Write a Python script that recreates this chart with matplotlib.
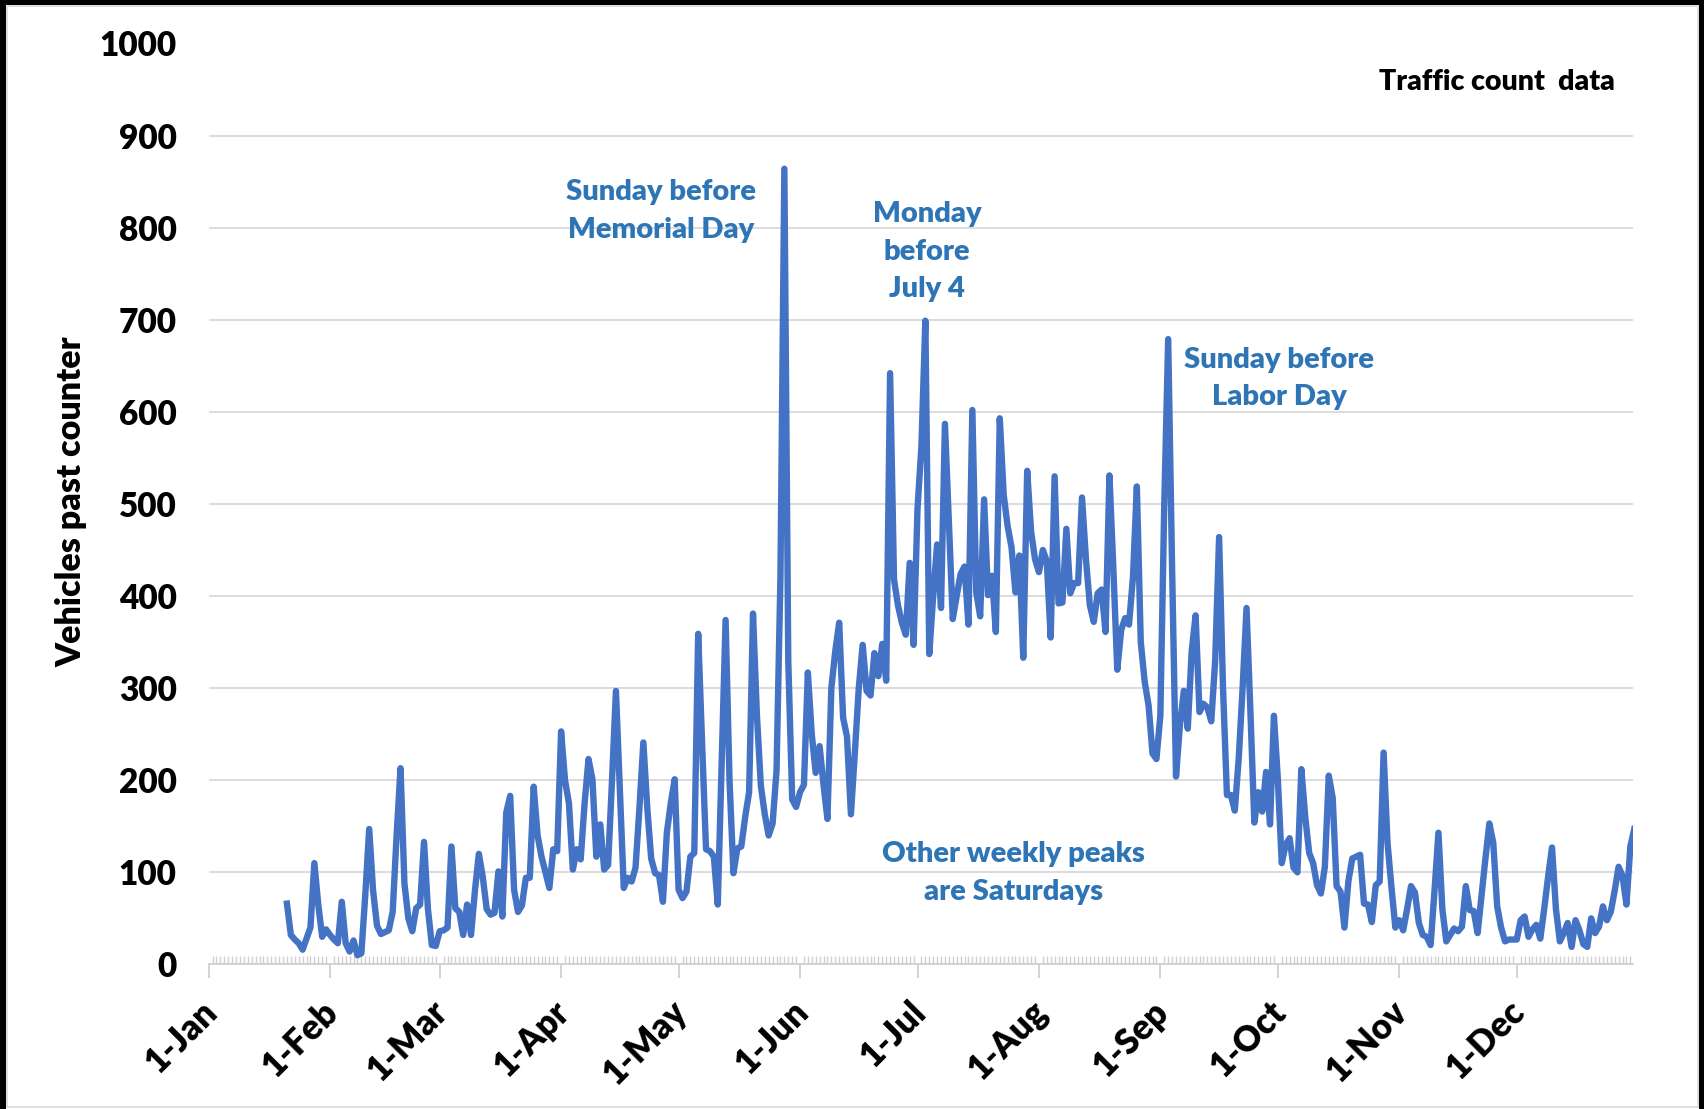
import datetime as dt
import numpy as np
import matplotlib
matplotlib.use("Agg")
import matplotlib.pyplot as plt
import matplotlib.dates as mdates
from matplotlib.transforms import ScaledTranslation
from matplotlib.patches import Rectangle

# ---------------- data ----------------
first_date = dt.date(2017, 1, 21)
vehicles = [
    66, 32, 27, 23, 16, 28, 40, 110, 65, 30, 38, 32, 27, 23, 68, 23, 14, 26, 10, 12,
    75, 147, 80, 42, 33, 35, 37, 57, 140, 213, 88, 50, 36, 61, 65, 133, 60, 21, 20, 36,
    37, 40, 128, 61, 57, 32, 65, 32, 80, 120, 95, 60, 54, 56, 101, 52, 165, 183, 81, 57,
    64, 94, 94, 193, 140, 117, 100, 83, 125, 123, 253, 200, 175, 103, 125, 114, 175, 223, 201, 117,
    152, 103, 108, 200, 297, 190, 83, 94, 90, 105, 170, 241, 170, 115, 99, 97, 68, 143, 175, 201,
    81, 72, 79, 117, 121, 359, 240, 125, 123, 117, 65, 220, 374, 200, 99, 126, 128, 160, 187, 381,
    270, 194, 163, 140, 153, 210, 420, 864, 330, 179, 171, 187, 195, 317, 250, 208, 237, 195, 158, 300,
    340, 371, 268, 247, 163, 230, 300, 347, 297, 292, 338, 313, 348, 308, 642, 418, 390, 371, 358, 436,
    347, 495, 563, 699, 337, 400, 456, 387, 587, 480, 375, 400, 424, 432, 369, 602, 404, 378, 505, 401,
    422, 361, 593, 510, 476, 453, 404, 444, 333, 536, 470, 440, 426, 450, 438, 355, 530, 392, 393, 473,
    403, 414, 414, 507, 440, 390, 372, 403, 407, 361, 531, 430, 320, 363, 376, 369, 420, 519, 350, 307,
    281, 229, 223, 270, 500, 679, 430, 204, 260, 297, 256, 340, 379, 274, 283, 279, 264, 330, 464, 300,
    184, 184, 167, 223, 300, 387, 274, 154, 187, 166, 209, 152, 270, 201, 110, 130, 137, 105, 100, 212,
    160, 121, 110, 86, 77, 106, 205, 181, 85, 79, 40, 90, 115, 117, 119, 66, 65, 46, 86, 90,
    230, 132, 84, 40, 48, 37, 60, 85, 78, 45, 32, 30, 21, 80, 143, 60, 25, 32, 39, 36,
    41, 85, 59, 58, 34, 75, 115, 153, 132, 63, 40, 25, 27, 27, 27, 48, 52, 30, 38, 43,
    28, 60, 95, 127, 60, 25, 34, 45, 19, 48, 37, 22, 19, 50, 34, 41, 63, 48, 57, 80,
    106, 96, 65, 128, 147,
]
dates = [first_date + dt.timedelta(days=i) for i in range(len(vehicles))]

y_ticks = list(range(0, 1001, 100))
title_text = "Traffic count  data"
y_label = "Vehicles past counter"
notes = [
    ("Sunday before\nMemorial Day", 115.6, 818),
    ("Monday\nbefore\nJuly 4", 183.4, 774),
    ("Sunday before\nLabor Day", 273.3, 636),
    ("Other weekly peaks\nare Saturdays", 205.6, 99),
]

# ---------------- style ----------------
plt.rcParams["font.family"] = ["Lato", "DejaVu Sans"]
WEIGHT = "heavy"

W, H = 1704, 1109
fig = plt.figure(figsize=(W / 100, H / 100), dpi=100)
fig.patch.set_facecolor("white")

left, right = 208.6 / W, 1632.7 / W
bottom, top = 1 - 964.4 / H, 1 - 43.5 / H
ax = fig.add_axes([left, bottom, right - left, top - bottom])

ax.plot(dates, vehicles, color="#4472C4", lw=4.6, solid_joinstyle="round", zorder=3)

x0 = mdates.date2num(dt.date(2017, 1, 1))
ax.set_xlim(x0, x0 + 363.6)
ax.set_ylim(0, 1000)
ax.set_yticks(y_ticks)
ax.yaxis.grid(True, color="#d9d9d9", lw=1.3)
ax.set_axisbelow(True)
for s in ["top", "right", "left"]:
    ax.spines[s].set_visible(False)
ax.spines["bottom"].set_color("#d0d0d0")
ax.spines["bottom"].set_linewidth(1.3)

ax.tick_params(axis="y", length=0, pad=23, labelsize=24, labelcolor="black")
ax.xaxis.set_major_locator(mdates.MonthLocator())
ax.xaxis.set_major_formatter(mdates.DateFormatter("%-d-%b"))
ax.xaxis.set_minor_locator(mdates.DayLocator())
ax.tick_params(axis="x", which="major", direction="out", length=10, width=1.3,
               color="#d0d0d0", labelsize=25, pad=12)
ax.tick_params(axis="x", which="minor", direction="in", length=6, width=1.0,
               color="#d0d0d0")
for lab in ax.get_yticklabels():
    lab.set_fontweight(WEIGHT)
offset = ScaledTranslation(-9 / 100, 0, fig.dpi_scale_trans)
for lab in ax.get_xticklabels():
    lab.set_rotation(45)
    lab.set_ha("right")
    lab.set_va("top")
    lab.set_rotation_mode("anchor")
    lab.set_fontweight(WEIGHT)
    lab.set_transform(lab.get_transform() + offset)

for text, xd, yv in notes:
    ax.text(x0 + xd, yv, text, ha="center", va="center", color="#2E75B6",
            fontsize=21, fontweight=WEIGHT, linespacing=1.55)

ax.text(x0 + 298.8, 958, title_text, ha="left", va="center", color="black",
        fontsize=20.5, fontweight=WEIGHT)

fig.text(71 / W, 1 - 502 / H, y_label, rotation=90, ha="center", va="center",
         fontsize=24.5, fontweight=WEIGHT)

# chart-area frame
fig.add_artist(Rectangle((7 / W, 2 / H), (1698 - 7) / W, (1103 - 2) / H,
                         transform=fig.transFigure, fill=False,
                         edgecolor="#d9d9d9", lw=1.2))
fig.add_artist(Rectangle((0, 0), 6 / W, 1, transform=fig.transFigure,
                         facecolor="black", edgecolor="none"))
fig.add_artist(Rectangle((0, 1 - 5 / H), 1, 5 / H, transform=fig.transFigure,
                         facecolor="black", edgecolor="none"))
fig.add_artist(Rectangle((1 - 5 / W, 0), 5 / W, 1, transform=fig.transFigure,
                         facecolor="black", edgecolor="none"))

fig.savefig("out.png", dpi=100)
